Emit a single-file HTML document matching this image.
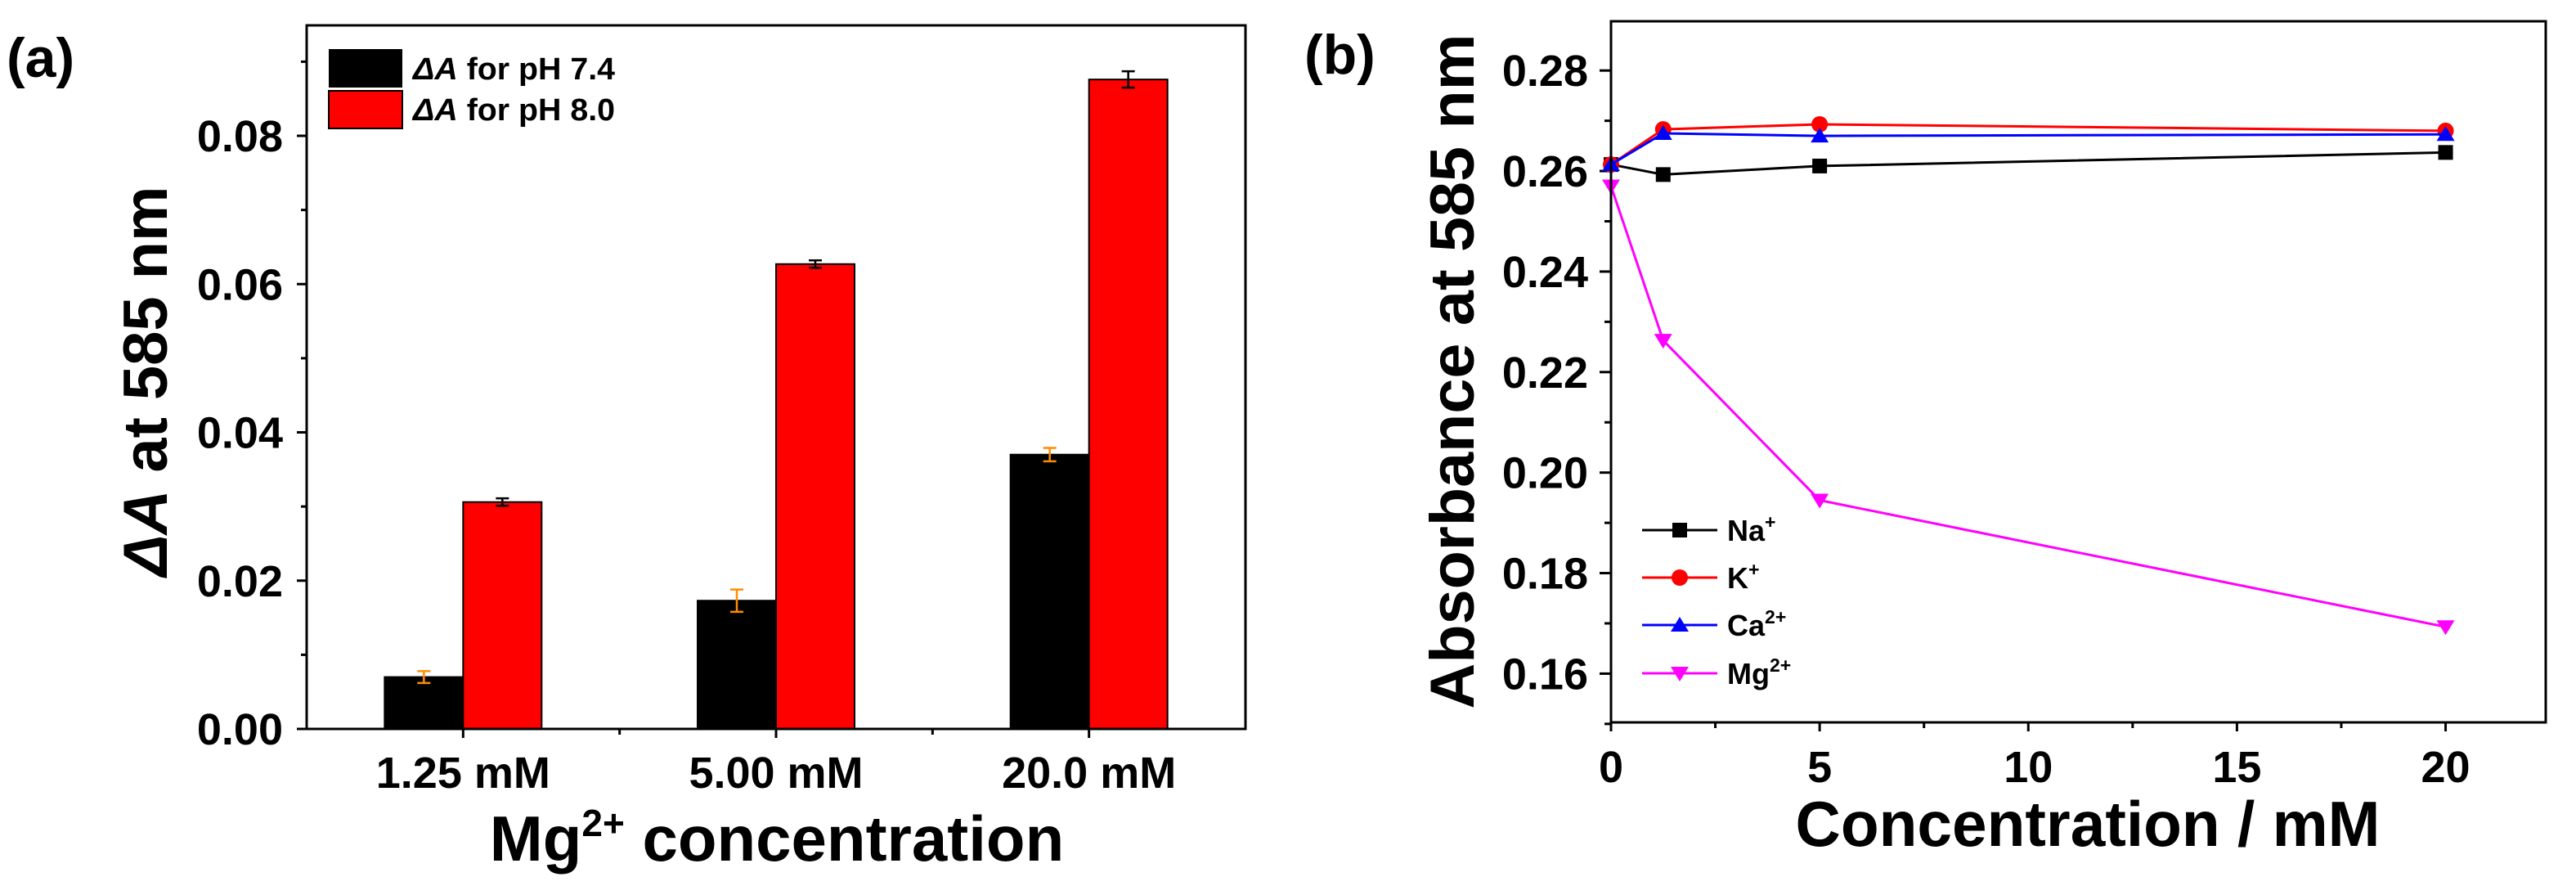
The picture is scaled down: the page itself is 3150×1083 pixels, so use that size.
<!DOCTYPE html>
<html><head><meta charset="utf-8"><style>
html,body{margin:0;padding:0;background:#fff;}
svg{display:block;}
text{font-family:"Liberation Sans",Arial,sans-serif;font-weight:bold;fill:#000;}
</style></head><body>
<svg id="chart" width="3150" height="1083" viewBox="0 0 3150 1083" xmlns="http://www.w3.org/2000/svg">
<g id="pa"></g>
<g id="pb"></g>
</svg>
<script>
// Panel (a) data
const catsA = ["1.25 mM", "5.00 mM", "20.0 mM"];
const ph74 = [0.0070, 0.0173, 0.0370];
const ph74Err = [0.0008, 0.0015, 0.0009];
const ph80 = [0.0306, 0.0627, 0.0876];
const ph80Err = [0.0005, 0.0005, 0.0011];
const yTicksA = [0, 0.02, 0.04, 0.06, 0.08];
const yTickLabelsA = ["0.00", "0.02", "0.04", "0.06", "0.08"];
// Panel (b) data
const concX = [0, 1.25, 5, 20];
const naVals = [0.2613, 0.2593, 0.2610, 0.2637];
const kVals = [0.2613, 0.2683, 0.2693, 0.2680];
const caVals = [0.2613, 0.2675, 0.2670, 0.2673];
const mgVals = [0.2570, 0.2263, 0.1945, 0.1693];
const xTicksB = [0, 5, 10, 15, 20];
const yTicksB = [0.16, 0.18, 0.20, 0.22, 0.24, 0.26, 0.28];

const NS = "http://www.w3.org/2000/svg";
function mk(parent, tag, attrs, txt){
  const e = document.createElementNS(NS, tag);
  for (const k in attrs) e.setAttribute(k, attrs[k]);
  if (txt !== undefined) e.textContent = txt;
  parent.appendChild(e);
  return e;
}

// ---------- Panel A ----------
const A = document.getElementById('pa');
const aL = 375, aR = 1523, aT = 31, aB = 891, aYmax = 0.0949;
const ya = v => aB - (v / aYmax) * (aB - aT);
const catW = (aR - aL) / catsA.length;
const xa = i => aL + catW * (i + 0.5);
const barW = 96;

function errBar(g, x, y0, e, col, sc){
  const p = mk(g, 'path', {d:`M${x-8},${sc(y0+e)}H${x+8}M${x},${sc(y0+e)}V${sc(y0-e)}M${x-8},${sc(y0-e)}H${x+8}`, stroke:col, 'stroke-width':2.5, fill:'none'});
  
  
}

catsA.forEach((c, i) => {
  const cx = xa(i);
  const b1 = mk(A, 'rect', {x:cx-barW, y:ya(ph74[i]), width:barW, height:aB-ya(ph74[i]), fill:'#000', stroke:'#000', 'stroke-width':2});
  
  
  const b2 = mk(A, 'rect', {x:cx, y:ya(ph80[i]), width:barW, height:aB-ya(ph80[i]), fill:'#ff0000', stroke:'#000', 'stroke-width':2});
  
  
  errBar(A, cx - barW/2, ph74[i], ph74Err[i], '#ff8c00', ya);
  errBar(A, cx + barW/2, ph80[i], ph80Err[i], '#000', ya);
  const t = mk(A, 'text', {x:cx, y:963, 'font-size':54, 'text-anchor':'middle'}, c);
  
  
  mk(A, 'line', {x1:cx, x2:cx, y1:aB, y2:aB+11, stroke:'#000', 'stroke-width':3});
  if (i > 0) mk(A, 'line', {x1:aL+catW*i, x2:aL+catW*i, y1:aB, y2:aB+7, stroke:'#000', 'stroke-width':3});
});
yTicksA.forEach((v, i) => {
  mk(A, 'line', {x1:aL-12, x2:aL, y1:ya(v), y2:ya(v), stroke:'#000', 'stroke-width':3});
  if (v + 0.01 < aYmax) mk(A, 'line', {x1:aL-7, x2:aL, y1:ya(v+0.01), y2:ya(v+0.01), stroke:'#000', 'stroke-width':3});
  const t = mk(A, 'text', {x:346, y:ya(v)+19, 'font-size':54, 'text-anchor':'end'}, yTickLabelsA[i]);
  
  
});
const frA = mk(A, 'rect', {x:aL, y:aT, width:aR-aL, height:aB-aT, fill:'none', stroke:'#000', 'stroke-width':3});


</script>
<script>
(function(){
const A = document.getElementById('pa');
A.insertAdjacentHTML('beforeend', `
<text x="8" y="94" font-size="68">(a)</text>
<g>
<rect x="402" y="60" width="90" height="47" fill="#000"/>
<rect x="402" y="111" width="90" height="46" fill="#ff0000" stroke="#000" stroke-width="2"/>
<text x="505" y="97" font-size="38" textLength="247" lengthAdjust="spacingAndGlyphs"><tspan font-style="italic">ΔA</tspan> for pH 7.4</text>
<text x="505" y="147" font-size="38" textLength="247" lengthAdjust="spacingAndGlyphs"><tspan font-style="italic">ΔA</tspan> for pH 8.0</text>
</g>
<text transform="translate(204,466) rotate(-90)" font-size="76" text-anchor="middle" textLength="477" lengthAdjust="spacingAndGlyphs"><tspan font-style="italic">ΔA</tspan> at 585 nm</text>
<text x="950" y="1052" font-size="78" text-anchor="middle">Mg<tspan dy="-30" font-size="46">2+</tspan><tspan dy="30"> concentration</tspan></text>
`);
})();
</script>
<script>
// ---------- Panel B ----------
(function(){
const B = document.getElementById('pb');
const bL = 1970, bR = 3113, bT = 26, bB = 883;
const xMax = 22.4, yMin = 0.1503, yMax = 0.2898;
const xb = v => bL + v / xMax * (bR - bL);
const yb = v => bB - (v - yMin) / (yMax - yMin) * (bB - bT);

xTicksB.forEach(v => {
  mk(B, 'line', {x1:xb(v), x2:xb(v), y1:bB, y2:bB+11, stroke:'#000', 'stroke-width':3});
  if (v + 2.5 < xMax) mk(B, 'line', {x1:xb(v+2.5), x2:xb(v+2.5), y1:bB, y2:bB+7, stroke:'#000', 'stroke-width':3});
  const t = mk(B, 'text', {x:xb(v), y:956, 'font-size':54, 'text-anchor':'middle'}, String(v));
  
  
});
yTicksB.forEach(v => {
  mk(B, 'line', {x1:bL-14, x2:bL, y1:yb(v), y2:yb(v), stroke:'#000', 'stroke-width':3});
  mk(B, 'line', {x1:bL-8, x2:bL, y1:yb(v-0.01), y2:yb(v-0.01), stroke:'#000', 'stroke-width':3});
  const t = mk(B, 'text', {x:1942, y:yb(v)+19, 'font-size':54, 'text-anchor':'end'}, v.toFixed(2));
  
  
});

function marker(g, type, x, y, col){
  let e;
  if (type === 'sq') e = mk(g, 'rect', {x:x-9, y:y-9, width:18, height:18, fill:col});
  else if (type === 'ci') e = mk(g, 'circle', {cx:x, cy:y, r:10, fill:col});
  else if (type === 'up') e = mk(g, 'path', {d:`M${x},${y-10}L${x+11},${y+8}L${x-11},${y+8}Z`, fill:col});
  else e = mk(g, 'path', {d:`M${x},${y+10}L${x+11},${y-8}L${x-11},${y-8}Z`, fill:col});
  
  
}
const series = [
  {name:'na', vals:naVals, col:'#000', m:'sq'},
  {name:'k', vals:kVals, col:'#ff0000', m:'ci'},
  {name:'ca', vals:caVals, col:'#0000ff', m:'up'},
  {name:'mg', vals:mgVals, col:'#ff00ff', m:'dn'}
];
series.forEach(s => {
  const g = mk(B, 'g', {});
  
  
  const d = s.vals.map((v, i) => (i ? 'L' : 'M') + xb(concX[i]) + ',' + yb(v)).join('');
  const p = mk(g, 'path', {d:d, stroke:s.col, 'stroke-width':3, fill:'none'});
  
  
  s.vals.forEach((v, i) => marker(g, s.m, xb(concX[i]), yb(v), s.col));
});
const lg = mk(B, 'g', {});


const legY = [648, 706, 764, 823];
const legT = [['Na','+'],['K','+'],['Ca','2+'],['Mg','2+']];
series.forEach((s, i) => {
  mk(lg, 'line', {x1:2008, x2:2100, y1:legY[i], y2:legY[i], stroke:s.col, 'stroke-width':3});
  marker(lg, s.m, 2054, legY[i], s.col);
  const t = mk(lg, 'text', {x:2112, y:legY[i]+13, 'font-size':36});
  
  
  t.innerHTML = legT[i][0] + '<tspan dy="-15" font-size="23">' + legT[i][1] + '</tspan>';
});
const fr = mk(B, 'rect', {x:bL, y:bT, width:bR-bL, height:bB-bT, fill:'none', stroke:'#000', 'stroke-width':3});


B.insertAdjacentHTML('beforeend', `
<text x="1595" y="90" font-size="68">(b)</text>
<text transform="translate(1802,454) rotate(-90)" font-size="76" text-anchor="middle" textLength="825" lengthAdjust="spacingAndGlyphs">Absorbance at 585 nm</text>
<text x="2553" y="1034" font-size="78" text-anchor="middle" textLength="715" lengthAdjust="spacingAndGlyphs">Concentration / mM</text>
`);
})();
</script>
</body></html>
